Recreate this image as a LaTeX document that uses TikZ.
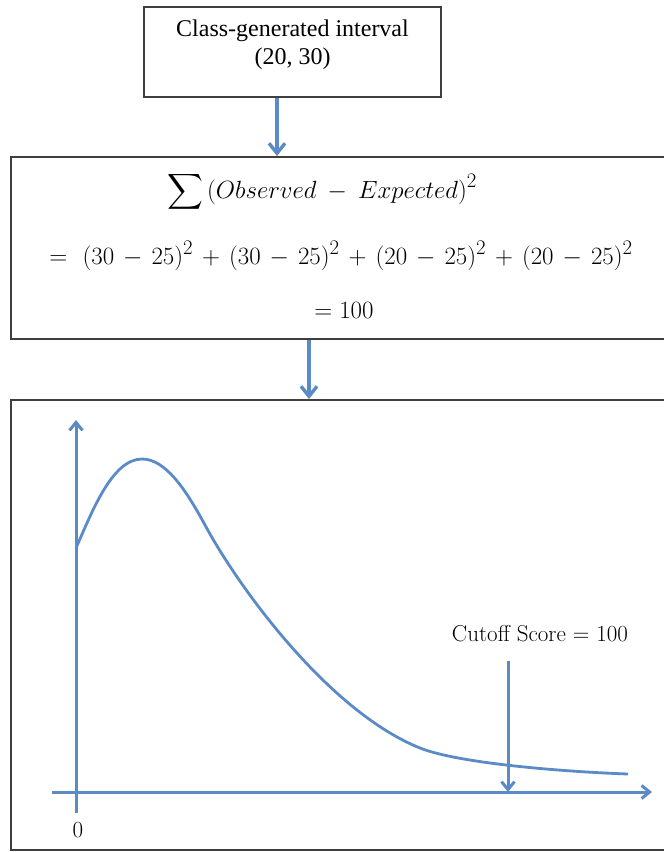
\documentclass[tikz,border=0pt]{standalone}
\usepackage{fontspec}
\usepackage{amsmath}
\usetikzlibrary{arrows.meta, positioning, calc}
\newfontfamily\timesfont{Liberation Serif}
\definecolor{chartblue}{HTML}{5B8BC7}
\definecolor{framegray}{HTML}{3F3F3F}

\begin{document}
\begin{tikzpicture}[x=1pt, y=-1pt,
    frame/.style={rectangle, draw=framegray, line width=2pt, inner sep=0pt},
    flow/.style={-{Straight Barb[length=10pt, width=16pt]}, line width=3.4pt, chartblue},
    axis/.style={-{Straight Barb[length=8pt, width=13pt]}, line width=3pt, chartblue},
    curve/.style={line width=2.8pt, chartblue},
    eqline/.style={font=\fontsize{28}{33}\selectfont, inner sep=0pt},
    chartlabel/.style={font=\fontsize{23}{27}\selectfont, inner sep=0pt},
  ]
    \useasboundingbox (0,0) rectangle (664,852);

    % boxes
    \node[frame, minimum width=297, minimum height=90]  (interval) at (292.5,52) {};
    \node[frame, minimum width=689, minimum height=182] (chisq)    at (355.5,248) {};
    \node[frame, minimum width=689, minimum height=450] (chart)    at (355.5,625) {};

    \node[font=\timesfont\fontsize{24}{28}\selectfont, align=center, inner sep=0pt,
      below=14pt of interval.north] (ivltext) {Class-generated interval\\(20, 30)};

    \node[eqline, anchor=base] (sumline) at (322,198)
      {$\medmuskip=8mu\displaystyle\sum\,(Observed - Expected)^2$};
    \node[eqline, anchor=base] (expand)  at (341,264)
      {$\medmuskip=6.5mu =\ (30-25)^2+(30-25)^2+(20-25)^2+(20-25)^2$};
    \node[eqline, anchor=base] (total)   at (344,318) {$= 100$};

    \coordinate (drop1) at ([xshift=-15.5pt]interval.south);
    \coordinate (drop2) at ([xshift=-46.5pt]chisq.south);
    \draw[flow] (drop1) -- (drop1 |- chisq.north);
    \draw[flow] (drop2) -- (drop2 |- chart.north);

    % axes and curve
    \coordinate (ybase) at (76,813);
    \coordinate (ytop)  at (76,420);
    \coordinate (xbase) at (52,792);
    \coordinate (xend)  at (652,792);
    \draw[axis] (ybase) -- (ytop);
    \draw[axis] (xbase) -- (xend);
    \node[chartlabel] (zero) at (78,830) {0};

    \draw[curve] (76,548) .. controls (92,512) and (112,459) .. (142,459)
      .. controls (165,459) and (185,488) .. (205,525)
      .. controls (240,590) and (330,712) .. (420,748)
      .. controls (460,764) and (570,772) .. (628,774);

    \node[chartlabel] (cutoff) at (540,634) {Cutoff Score = 100};
    \coordinate (cuttop)  at (508,661);
    \coordinate (cutfoot) at (508,792);
    \draw[axis] (cuttop) -- (cutfoot);
  \end{tikzpicture}
\end{document}
